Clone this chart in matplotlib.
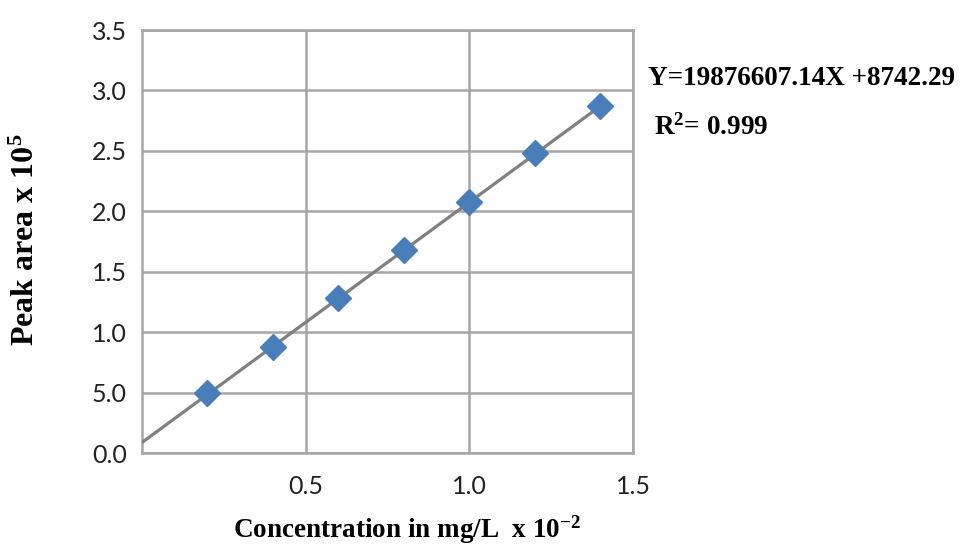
import numpy as np
import matplotlib
matplotlib.use('Agg')
import matplotlib.pyplot as plt

# calibration data (conc x 10^-2 mg/L, peak area x 10^5)
conc = [0.2, 0.4, 0.6, 0.8, 1.0, 1.2, 1.4]
area = [0.50, 0.88, 1.28, 1.68, 2.08, 2.48, 2.87]

slope_raw = 19876607.14
icpt_raw = 8742.29
r2 = 0.999

yticks = [0.0, 0.5, 1.0, 1.5, 2.0, 2.5, 3.0, 3.5]
ylabels = ['0.0', '5.0', '1.0', '1.5', '2.0', '2.5', '3.0', '3.5']
xticks = [0.5, 1.0, 1.5]
xlabels = ['0.5', '1.0', '1.5']

plt.rcParams['mathtext.fontset'] = 'custom'
plt.rcParams['mathtext.rm'] = 'Liberation Serif:bold'
plt.rcParams['mathtext.default'] = 'rm'

gridc = '#a6a6a6'
fig = plt.figure(figsize=(9.61, 5.52), dpi=100)
ax = fig.add_axes([0.1478, 0.1793, 0.5109, 0.7663])

# trend line from the equation (scaled to axis units)
slope = slope_raw * 1e-2 / 1e5
icpt = icpt_raw / 1e5
xl = np.array([0.0, max(conc)])
ax.plot(xl, slope * xl + icpt, color='#808080', lw=2.3, zorder=3)
ax.plot(conc, area, 'D', color='#4a7ebb', ms=13, mec='#4a7ebb', zorder=4)

ax.set_xlim(0, 1.5)
ax.set_ylim(0, 3.5)
ax.set_yticks(yticks)
ax.set_yticklabels(ylabels)
ax.set_xticks(xticks)
ax.set_xticklabels(xlabels)
ax.grid(True, color=gridc, lw=1.8)
ax.set_axisbelow(True)
for s in ax.spines.values():
    s.set_color(gridc)
    s.set_linewidth(1.8)
ax.tick_params(length=0, labelsize=18, labelcolor='#222222')
ax.tick_params(axis='y', pad=11)
ax.tick_params(axis='x', pad=16)
for t in ax.get_xticklabels() + ax.get_yticklabels():
    t.set_family('Lato')

fig.text(0.2425, 0.040, 'Concentration in mg/L  x 10$^{-2}$', family='Liberation Serif',
         fontweight='bold', fontsize=19.5, va='center', ha='left')
fig.text(0.027, 0.565, 'Peak area x 10$^{5}$', family='Liberation Serif',
         fontweight='bold', fontsize=23, va='center', ha='center', rotation=90)

fig.text(0.674, 0.857, 'Y=%.2fX +%.2f' % (slope_raw, icpt_raw), family='Liberation Serif',
         fontweight='bold', fontsize=19.5, va='center', ha='left')
fig.text(0.681, 0.770, 'R$^{2}$= %.3f' % r2, family='Liberation Serif',
         fontweight='bold', fontsize=19.5, va='center', ha='left')

plt.savefig('out.png', dpi=100)
